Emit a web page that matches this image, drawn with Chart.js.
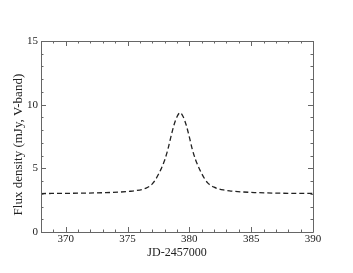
<!DOCTYPE html>
<html>
<head>
<meta charset="utf-8">
<script src="https://cdn.jsdelivr.net/npm/chart.js@4/dist/chart.umd.min.js"></script>
<style>
html,body{margin:0;padding:0;background:#fff;}
canvas{display:block;}
</style>
</head>
<body>
<canvas id="c" width="353" height="273"></canvas>
<script>
// Data
const jd = [368, 371.25, 373.25, 374.25, 375.25, 375.75, 376.25, 376.5, 376.75, 377, 377.25, 377.5, 377.75, 378, 378.25, 378.5, 378.75, 379, 379.25,
            379.5, 379.75, 380, 380.25, 380.5, 380.75, 381, 381.25, 381.5, 381.75, 382, 382.25, 382.75, 383.25, 384.25, 385.25, 387.25, 390];
const flux = [3.02, 3.05, 3.09, 3.13, 3.20, 3.26, 3.36, 3.45, 3.58, 3.78, 4.10, 4.53, 5.03, 5.63, 6.45, 7.45, 8.38, 9.05, 9.37,
              9.05, 8.38, 7.45, 6.45, 5.68, 5.08, 4.58, 4.16, 3.84, 3.65, 3.52, 3.42, 3.30, 3.23, 3.15, 3.10, 3.05, 3.03];
const xTicks = [370, 375, 380, 385, 390];
const yTicks = [0, 5, 10, 15];
const xRange = [368, 390];
const yRange = [0, 15];

const frameTicks = {
  id: 'frameTicks',
  afterDraw(chart) {
    const ctx = chart.ctx, xs = chart.scales.x, ys = chart.scales.y;
    const a = chart.chartArea;
    ctx.save();
    ctx.strokeStyle = '#666';
    ctx.lineWidth = 1;
    ctx.beginPath();
    ctx.rect(Math.round(a.left) + 0.5, Math.round(a.top) + 0.5, Math.round(a.right - a.left), Math.round(a.bottom - a.top));
    ctx.stroke();
    ctx.beginPath();
    for (let v = xRange[0]; v <= xRange[1]; v++) {
      const px = Math.round(xs.getPixelForValue(v)) + 0.5;
      const len = xTicks.includes(v) ? 5 : 2.5;
      ctx.moveTo(px, a.bottom); ctx.lineTo(px, a.bottom - len);
      ctx.moveTo(px, a.top); ctx.lineTo(px, a.top + len);
    }
    for (let v = yRange[0]; v <= yRange[1]; v++) {
      const py = Math.round(ys.getPixelForValue(v)) + 0.5;
      const len = yTicks.includes(v) ? 5 : 2.5;
      ctx.moveTo(a.left, py); ctx.lineTo(a.left + len, py);
      ctx.moveTo(a.right, py); ctx.lineTo(a.right - len, py);
    }
    ctx.stroke();
    ctx.restore();
  }
};

const fam = "'Liberation Serif', 'Times New Roman', Times, serif";
const tickFont = { family: fam, size: 11 };

new Chart(document.getElementById('c'), {
  type: 'line',
  data: {
    datasets: [{
      data: jd.map((x, i) => ({ x: x, y: flux[i] })),
      borderColor: '#222',
      borderWidth: 1.3,
      borderDash: [5, 3],
      pointRadius: 0,
      fill: false,
      cubicInterpolationMode: 'monotone'
    }]
  },
  options: {
    responsive: false,
    animation: false,
    events: [],
    layout: { padding: { left: 0, top: 41, right: 40, bottom: 0 } },
    plugins: { legend: { display: false }, tooltip: { enabled: false } },
    scales: {
      x: {
        type: 'linear', min: xRange[0], max: xRange[1],
        afterFit: s => { s.height = 41; },
        afterBuildTicks: s => { s.ticks = xTicks.map(v => ({ value: v })); },
        grid: { display: false, drawTicks: false },
        border: { display: false },
        ticks: { font: tickFont, color: '#222', padding: 1, maxRotation: 0 },
        title: { display: true, text: 'JD-2457000', font: { family: fam, size: 12 }, color: '#222', padding: { top: 13, bottom: 13 } }
      },
      y: {
        type: 'linear', min: yRange[0], max: yRange[1],
        afterFit: s => { s.width = 41; },
        afterBuildTicks: s => { s.ticks = yTicks.map(v => ({ value: v })); },
        grid: { display: false, drawTicks: false },
        border: { display: false },
        ticks: { font: tickFont, color: '#222', padding: 3 },
        title: { display: true, text: 'Flux density (mJy, V-band)     ', font: { family: fam, size: 13 }, color: '#222', padding: { top: 10.5, bottom: 10.5 } }
      }
    }
  },
  plugins: [frameTicks]
});
</script>
</body>
</html>
